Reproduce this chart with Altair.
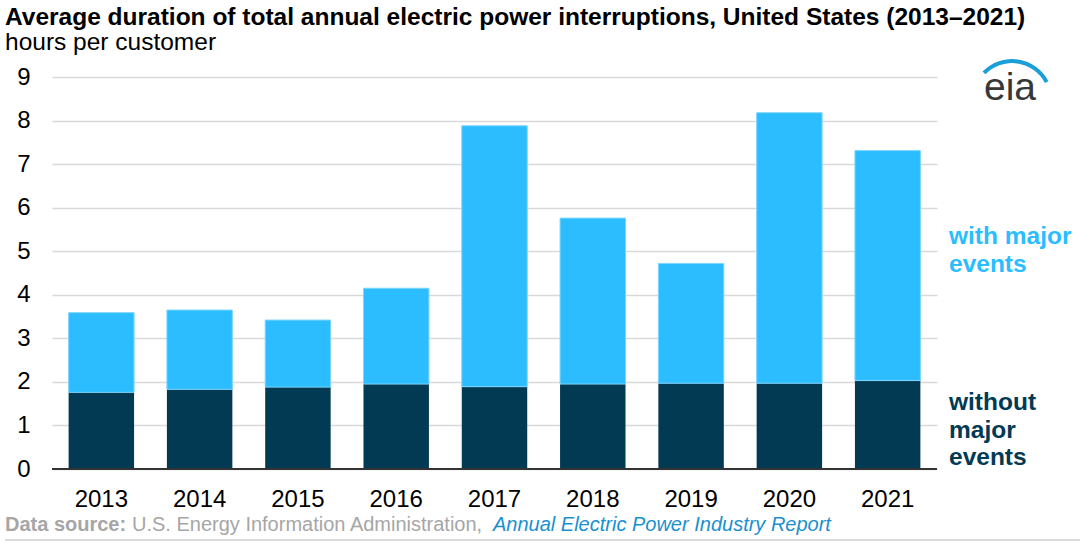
import altair as alt
import pandas as pd

# ---- data ----
years = ["2013", "2014", "2015", "2016", "2017", "2018", "2019", "2020", "2021"]
without_major = [1.76, 1.83, 1.88, 1.95, 1.89, 1.95, 1.97, 1.97, 2.03]
with_major = [3.59, 3.65, 3.42, 4.15, 7.88, 5.76, 4.72, 8.18, 7.31]
y_ticks = [0, 1, 2, 3, 4, 5, 6, 7, 8, 9]

title_text = "Average duration of total annual electric power interruptions, United States (2013\u20132021)"
subtitle_text = "hours per customer"
label_with = ["with major", "events"]
label_without = ["without", "major", "events"]
footer_bold = "Data source:"
footer_plain = "U.S. Energy Information Administration,"
footer_link = "Annual Electric Power Industry Report"

FONT = "Liberation Sans"
DARK = "#023A54"
LIGHT = "#2BBDFF"
GRAY = "#a6a6a6"

df = pd.DataFrame({"year": years, "without": without_major, "with": with_major})

W, H = 885, 392

x_enc = alt.X(
    "year:N",
    sort=years,
    scale=alt.Scale(paddingInner=0.334, paddingOuter=0.169),
    axis=alt.Axis(
        title=None, labelAngle=0, domain=False, ticks=False,
        labelFontSize=24, labelFont=FONT, labelColor="#000000", labelPadding=18,
    ),
)
y_scale = alt.Scale(domain=[0, 9], nice=False)

base = alt.Chart(df)

bars_without = base.mark_bar(color=DARK).encode(
    x=x_enc,
    y=alt.Y(
        "without:Q", scale=y_scale,
        axis=alt.Axis(
            title=None, values=y_ticks, domain=False, ticks=False,
            grid=True, gridColor="#d9d9d9", gridWidth=1.5,
            labelFontSize=24, labelFont=FONT, labelColor="#000000", labelPadding=22,
        ),
    ),
)

bars_with = base.mark_bar(color=LIGHT, stroke="#7fd6ff", strokeWidth=1).encode(
    x=x_enc,
    y=alt.Y("with:Q", scale=y_scale),
    y2="without:Q",
)

zero_rule = alt.Chart(pd.DataFrame({"v": [0]})).mark_rule(color="#333333", strokeWidth=2).encode(
    y=alt.Y("v:Q", scale=y_scale)
)

one = pd.DataFrame({"t": [0]})

lbl_with = alt.Chart(one).mark_text(
    align="left", baseline="alphabetic", font=FONT, fontSize=24.5, fontWeight="bold",
    color=LIGHT, lineHeight=27.5,
).encode(x=alt.value(897), y=alt.value(167), text=alt.value(label_with))

lbl_without = alt.Chart(one).mark_text(
    align="left", baseline="alphabetic", font=FONT, fontSize=24.5, fontWeight="bold",
    color=DARK, lineHeight=27.5,
).encode(x=alt.value(897), y=alt.value(333), text=alt.value(label_without))

footer_1 = alt.Chart(one).mark_text(
    align="left", baseline="alphabetic", font=FONT, fontSize=20, fontWeight="bold", color=GRAY,
).encode(x=alt.value(-47), y=alt.value(454), text=alt.value(footer_bold))
footer_2 = alt.Chart(one).mark_text(
    align="left", baseline="alphabetic", font=FONT, fontSize=20, color=GRAY,
).encode(x=alt.value(80), y=alt.value(454), text=alt.value(footer_plain))
footer_3 = alt.Chart(one).mark_text(
    align="left", baseline="alphabetic", font=FONT, fontSize=20, fontStyle="italic", color="#1a90cf",
).encode(x=alt.value(441), y=alt.value(454), text=alt.value(footer_link))

footer_line = alt.Chart(one).mark_rule(color="#dddddd", strokeWidth=2).encode(
    x=alt.value(-47), x2=alt.value(1028), y=alt.value(463)
)

logo_text = alt.Chart(one).mark_text(
    align="center", baseline="alphabetic", font=FONT, fontSize=39, color="#383838",
).encode(x=alt.value(958), y=alt.value(23), text=alt.value("eia"))

logo_arc = alt.Chart(one).mark_arc(
    color="#1a9fd9", theta=5.48, theta2=7.38, radius=37, radius2=41,
).encode(x=alt.value(960), y=alt.value(23))

chart = alt.layer(
    bars_without, bars_with, zero_rule, lbl_with, lbl_without,
    footer_1, footer_2, footer_3, footer_line, logo_text, logo_arc,
).properties(
    width=W, height=H,
    title=alt.TitleParams(
        text=title_text, subtitle=subtitle_text, anchor="start", frame="group", dx=-47,
        font=FONT, fontSize=24.5, fontWeight="bold", color="#000000",
        subtitleFont=FONT, subtitleFontSize=24.5, subtitleColor="#000000", subtitlePadding=0,
        offset=4,
    ),
    autosize=alt.AutoSizeParams(type="none"),
    padding={"left": 52, "top": 77, "right": 143, "bottom": 74},
).configure_view(stroke=None)

chart.save("out.html", embed_options={"renderer": "svg", "actions": False})
